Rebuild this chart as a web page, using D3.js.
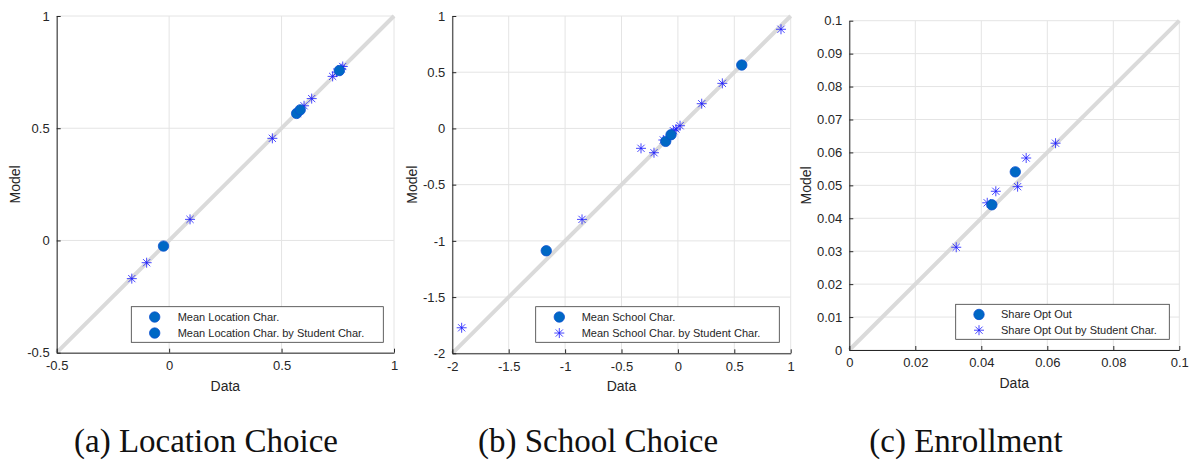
<!DOCTYPE html>
<html>
<head>
<meta charset="utf-8">
<script src="https://cdn.jsdelivr.net/npm/d3@7"></script>
<style>
  html, body { margin: 0; padding: 0; background: #fff; }
  svg { display: block; }
</style>
</head>
<body>
<svg id="chart" width="1189" height="460"></svg>
<script>
// ---------- DATA ----------
// (a) Location Choice
const locMeanData  = [-0.025, 0.567, 0.583, 0.757];
const locMeanModel = [-0.025, 0.566, 0.582, 0.757];
const locByData    = [-0.166, -0.100, 0.093, 0.459, 0.570, 0.600, 0.634, 0.727, 0.745, 0.765, 0.772];
const locByModel   = [-0.170, -0.099, 0.094, 0.455, 0.565, 0.600, 0.632, 0.731, 0.750, 0.765, 0.775];
const locTicks     = [-0.5, 0, 0.5, 1];
const locLegend    = ["Mean Location Char.", "Mean Location Char. by Student Char."];

// (b) School Choice
const schMeanData  = [-1.167, -0.108, -0.061, 0.566];
const schMeanModel = [-1.088, -0.115, -0.056, 0.564];
const schByData    = [-1.917, -0.850, -0.327, -0.212, -0.129, -0.040, -0.017, 0.019, 0.211, 0.394, 0.914];
const schByModel   = [-1.773, -0.809, -0.177, -0.216, -0.103, -0.020, -0.005, 0.024, 0.220, 0.401, 0.882];
const schTicks     = [-2, -1.5, -1, -0.5, 0, 0.5, 1];
const schLegend    = ["Mean School Char.", "Mean School Char. by Student Char."];

// (c) Enrollment
const enrMeanData  = [0.0432, 0.0503];
const enrMeanModel = [0.0441, 0.0541];
const enrByData    = [0.0324, 0.0418, 0.0444, 0.0510, 0.0536, 0.0625];
const enrByModel   = [0.0312, 0.0447, 0.0482, 0.0496, 0.0583, 0.0628];
const enrXTicks    = [0, 0.02, 0.04, 0.06, 0.08, 0.1];
const enrYTicks    = [0, 0.01, 0.02, 0.03, 0.04, 0.05, 0.06, 0.07, 0.08, 0.09, 0.1];
const enrLegend    = ["Share Opt Out", "Share Opt Out by Student Char."];

const captions = ["(a) Location Choice", "(b) School Choice", "(c) Enrollment"];

// ---------- STYLE ----------
const AX = "#262626";
const GRID = "#e4e4e4";
const DIAG = "#dadada";
const CIRCLE_FILL = "#0068c4";
const CIRCLE_STROKE = "#0a4fd0";
const STAR = "#1a1aff";
const FONT = "'Liberation Sans', Arial, Helvetica, sans-serif";

const svg = d3.select("#chart");
const fmt = d => String(+(+d).toFixed(4));

function star(g, x, y, s) {
  const d = s * 0.72;
  const p = `M${x - s},${y}L${x + s},${y}M${x},${y - s}L${x},${y + s}` +
            `M${x - d},${y - d}L${x + d},${y + d}M${x - d},${y + d}L${x + d},${y - d}`;
  g.append("path").attr("d", p).attr("stroke", STAR).attr("stroke-width", 1)
    .attr("fill", "none").attr("opacity", 0.8);
}

function panel(cfg) {
  const g = svg.append("g");
  const x = d3.scaleLinear().domain(cfg.xDomain).range([cfg.left, cfg.right]);
  const y = d3.scaleLinear().domain(cfg.yDomain).range([cfg.bottom, cfg.top]);

  // grid
  g.append("g").selectAll("line.gx").data(cfg.xTicks).join("line")
    .attr("x1", d => x(d)).attr("x2", d => x(d))
    .attr("y1", cfg.top).attr("y2", cfg.bottom)
    .attr("stroke", GRID).attr("stroke-width", 1);
  g.append("g").selectAll("line.gy").data(cfg.yTicks).join("line")
    .attr("y1", d => y(d)).attr("y2", d => y(d))
    .attr("x1", cfg.left).attr("x2", cfg.right)
    .attr("stroke", GRID).attr("stroke-width", 1);

  // identity line
  const lo = Math.max(cfg.xDomain[0], cfg.yDomain[0]);
  const hi = Math.min(cfg.xDomain[1], cfg.yDomain[1]);
  g.append("line")
    .attr("x1", x(lo)).attr("y1", y(lo)).attr("x2", x(hi)).attr("y2", y(hi))
    .attr("stroke", DIAG).attr("stroke-width", 4);

  // axes
  const xa = d3.axisBottom(x).tickValues(cfg.xTicks).tickFormat(fmt)
    .tickSizeInner(-4).tickSizeOuter(0).tickPadding(8);
  const ya = d3.axisLeft(y).tickValues(cfg.yTicks).tickFormat(fmt)
    .tickSizeInner(-4).tickSizeOuter(0).tickPadding(7);
  const gx = g.append("g").attr("transform", `translate(0,${cfg.bottom})`).call(xa);
  const gy = g.append("g").attr("transform", `translate(${cfg.left},0)`).call(ya);
  [gx, gy].forEach(a => {
    a.select(".domain").attr("stroke", AX).attr("stroke-width", 1);
    a.selectAll(".tick line").attr("stroke", AX);
    a.selectAll(".tick text").attr("fill", AX).style("font-family", FONT).style("font-size", "13px");
  });

  // points: stars then circles
  const sg = g.append("g");
  cfg.byData.forEach((d, i) => star(sg, x(d), y(cfg.byModel[i]), 5));
  g.append("g").selectAll("circle").data(cfg.meanData).join("circle")
    .attr("cx", d => x(d)).attr("cy", (d, i) => y(cfg.meanModel[i]))
    .attr("r", 5.2).attr("fill", CIRCLE_FILL).attr("stroke", CIRCLE_STROKE).attr("stroke-width", 0.8);

  // axis labels
  g.append("text").attr("x", (cfg.left + cfg.right) / 2).attr("y", cfg.bottom + 38)
    .attr("text-anchor", "middle").attr("fill", AX)
    .style("font-family", FONT).style("font-size", "14px").text("Data");
  g.append("text")
    .attr("transform", `translate(${cfg.modelX},${(cfg.top + cfg.bottom) / 2}) rotate(-90)`)
    .attr("text-anchor", "middle").attr("fill", AX)
    .style("font-family", FONT).style("font-size", "14px").text("Model");

  // legend
  const L = cfg.legend;
  const lg = g.append("g");
  lg.append("rect").attr("x", L.x).attr("y", L.y).attr("width", L.w).attr("height", L.h)
    .attr("fill", "#fff").attr("stroke", "#3a3a3a").attr("stroke-width", 0.8);
  cfg.legendLabels.forEach((t, i) => {
    const cy = L.y + L.h * (i === 0 ? 0.29 : 0.74);
    const mx = L.x + L.mx;
    if (i === 0 || cfg.legendBothCircles) {
      lg.append("circle").attr("cx", mx).attr("cy", cy).attr("r", 5.2)
        .attr("fill", CIRCLE_FILL).attr("stroke", CIRCLE_STROKE).attr("stroke-width", 0.8);
    } else {
      star(lg, mx, cy, 5);
    }
    lg.append("text").attr("x", L.x + L.tx).attr("y", cy + 4).attr("fill", AX)
      .style("font-family", FONT).style("font-size", "11px").text(t);
  });

  // caption
  svg.append("text").attr("x", cfg.capX).attr("y", 452).attr("text-anchor", "middle")
    .attr("fill", "#111").style("font-family", "'Liberation Serif', 'DejaVu Serif', serif")
    .style("font-size", "33px").text(cfg.caption);
}

panel({
  xDomain: [-0.5, 1], yDomain: [-0.5, 1], left: 56.7, right: 394, top: 16, bottom: 352.7,
  xTicks: locTicks, yTicks: locTicks,
  meanData: locMeanData, meanModel: locMeanModel, byData: locByData, byModel: locByModel,
  modelX: 20, legendLabels: locLegend, legendBothCircles: true,
  legend: { x: 131.3, y: 306.7, w: 252, h: 35.6, mx: 23.4, tx: 46.4 },
  capX: 206, caption: captions[0]
});

panel({
  xDomain: [-2, 1], yDomain: [-2, 1], left: 452.3, right: 790.7, top: 16, bottom: 353.3,
  xTicks: schTicks, yTicks: schTicks,
  meanData: schMeanData, meanModel: schMeanModel, byData: schByData, byModel: schByModel,
  modelX: 417, legendLabels: schLegend, legendBothCircles: false,
  legend: { x: 535.7, y: 306.7, w: 243.6, h: 35.6, mx: 23.6, tx: 46 },
  capX: 598, caption: captions[1]
});

panel({
  xDomain: [0, 0.1], yDomain: [0, 0.1], left: 849.3, right: 1179.3, top: 20.7, bottom: 350,
  xTicks: enrXTicks, yTicks: enrYTicks,
  meanData: enrMeanData, meanModel: enrMeanModel, byData: enrByData, byModel: enrByModel,
  modelX: 811, legendLabels: enrLegend, legendBothCircles: false,
  legend: { x: 955.7, y: 304.3, w: 213.6, h: 35, mx: 23.3, tx: 45.3 },
  capX: 966, caption: captions[2]
});
</script>
</body>
</html>
